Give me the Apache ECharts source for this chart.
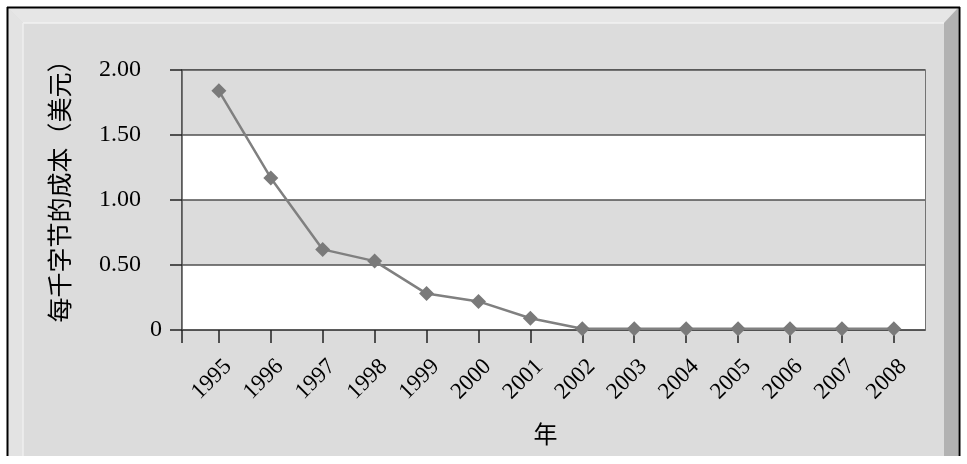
<!DOCTYPE html>
<html>
<head>
<meta charset="utf-8">
<script src="https://cdn.jsdelivr.net/npm/echarts@6/dist/echarts.min.js"></script>
<style>html,body{margin:0;padding:0;background:#fff}#c{width:967px;height:464px}</style>
</head>
<body>
<div id="c"></div>
<script>
const years = [1995, 1996, 1997, 1998, 1999, 2000, 2001, 2002, 2003, 2004, 2005, 2006, 2007, 2008];
const costPerKB = [1.84, 1.17, 0.62, 0.53, 0.28, 0.22, 0.09, 0.01, 0.01, 0.01, 0.01, 0.01, 0.01, 0.01];
const yTicks = [0, 0.5, 1.0, 1.5, 2.0];
const yName = '每千字节的成本（美元）';
const xName = '年';

const xMin = 1994.29, xMax = 2008.6;
const serif = '"Liberation Serif", "Noto Sans CJK SC", serif';
const cjk = '"Noto Sans CJK SC", "Liberation Serif", sans-serif';
const chart = echarts.init(document.getElementById('c'));
chart.setOption({
  backgroundColor: '#ffffff',
  animation: false,
  graphic: [
    { type: 'rect', z: -10, shape: { x: 7, y: 7, width: 953, height: 449 }, style: { fill: '#dcdcdc' } },
    { type: 'polygon', z: -9, shape: { points: [[8,8],[958,8],[944,23],[23,23]] }, style: { fill: '#e6e6e6' } },
    { type: 'polygon', z: -9, shape: { points: [[8,8],[23,23],[23,456],[8,456]] }, style: { fill: '#e3e3e3' } },
    { type: 'polygon', z: -9, shape: { points: [[958,8],[958,456],[944,456],[944,23]] }, style: { fill: '#b2b2b2' } },
    { type: 'line', z: -8, shape: { x1: 23, y1: 23, x2: 944, y2: 23 }, style: { stroke: '#f2f2f2', lineWidth: 1.5 } },
    { type: 'line', z: -8, shape: { x1: 23, y1: 23, x2: 23, y2: 456 }, style: { stroke: '#efefef', lineWidth: 1.5 } },
    { type: 'line', z: -8, shape: { x1: 7, y1: 7.5, x2: 960, y2: 7.5 }, style: { stroke: '#000', lineWidth: 2 } },
    { type: 'line', z: -8, shape: { x1: 7.5, y1: 7, x2: 7.5, y2: 456 }, style: { stroke: '#000', lineWidth: 2 } },
    { type: 'line', z: -8, shape: { x1: 959.5, y1: 7, x2: 959.5, y2: 456 }, style: { stroke: '#000', lineWidth: 2 } }
  ],
  grid: {
    left: 182, top: 70, right: 42, bottom: 134,
    show: true, backgroundColor: 'transparent', borderColor: '#505050', borderWidth: 1.5
  },
  xAxis: {
    type: 'value',
    min: xMin,
    max: xMax,
    name: xName,
    nameLocation: 'middle',
    nameGap: 92,
    nameTextStyle: { fontFamily: cjk, fontSize: 24, color: '#000', padding: [0, 16, 0, 0] },
    axisLine: { show: true, onZero: false, lineStyle: { color: '#505050', width: 1.5 } },
    axisTick: { show: true, length: 13, customValues: [xMin].concat(years), lineStyle: { color: '#222', width: 1.5 } },
    axisLabel: {
      rotate: 45, margin: 24, fontFamily: serif, fontSize: 23, color: '#000',
      customValues: years,
      formatter: v => '{p|' + Math.round(v) + '}',
      rich: { p: { fontFamily: serif, fontSize: 23, color: '#000', padding: [26, 0, 0, 0] } }
    },
    splitLine: { show: false }
  },
  yAxis: {
    type: 'value',
    min: yTicks[0],
    max: yTicks[yTicks.length - 1],
    interval: 0.5,
    name: yName,
    nameLocation: 'middle',
    nameRotate: 90,
    nameGap: 110,
    nameTextStyle: { fontFamily: cjk, fontSize: 25, color: '#000', padding: [0, 0, 0, 30] },
    axisLine: { show: true, lineStyle: { color: '#505050', width: 1.5 } },
    axisTick: { show: true, length: 12, lineStyle: { color: '#222', width: 1.5 } },
    axisLabel: {
      margin: 20, fontFamily: serif, fontSize: 24, color: '#000',
      formatter: v => (v === 0 ? '{z|0}' : '{a|' + v.toFixed(2) + '}'),
      rich: {
        a: { fontFamily: serif, fontSize: 24, color: '#000', padding: [0, 21, 0, 0] },
        z: { fontFamily: serif, fontSize: 24, color: '#000' }
      }
    },
    splitLine: { show: true, lineStyle: { color: '#505050', width: 1.5 } },
    splitArea: { show: true, areaStyle: { color: ['#ffffff', '#dcdcdc'] } }
  },
  series: [{
    type: 'line',
    data: years.map((y, i) => [y, costPerKB[i]]),
    symbol: 'diamond',
    symbolSize: 15,
    itemStyle: { color: '#7a7a7a' },
    lineStyle: { color: '#808080', width: 2.5 }
  }]
});
</script>
</body>
</html>
